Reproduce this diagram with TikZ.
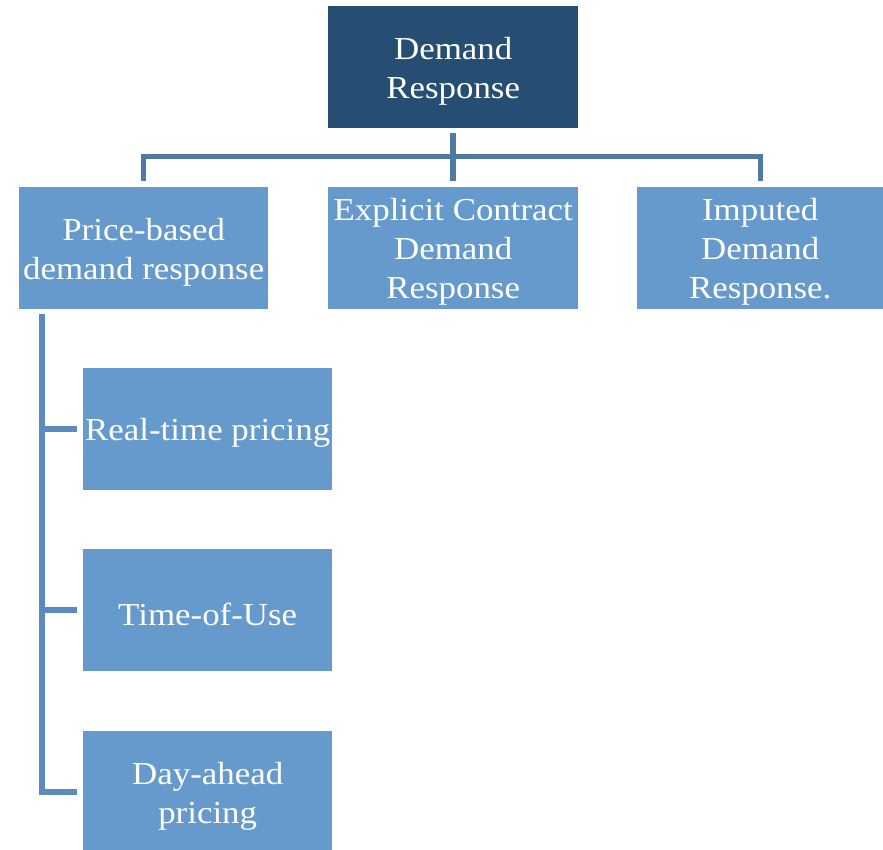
\documentclass[tikz,border=0pt]{standalone}
\usepackage{fontspec}
\setmainfont{Liberation Serif}[FakeStretch=1.09]
\definecolor{drdark}{HTML}{264E73}
\definecolor{drlight}{HTML}{6699CC}
\definecolor{linktop}{HTML}{4F7AA3}
\definecolor{linkleft}{HTML}{5B8BBE}
\tikzset{
  box/.style={anchor=north west, minimum width=#1, minimum height=122pt,
    inner sep=0pt, fill=drlight},
  box/.default=249pt,
  rootbox/.style={box=250pt, fill=drdark},
  boxtext/.style={inner sep=0pt, align=center, text=white,
    font=\fontsize{32}{39}\selectfont},
  toplink/.style={draw=linktop, line width=5pt, line join=miter},
  sidelink/.style={draw=linkleft, line width=5.5pt, line join=miter}
}
\begin{document}
\begin{tikzpicture}[x=1pt, y=-1pt]
\useasboundingbox (0,0) rectangle (883,850);
\begin{scope}
\clip (0,0) rectangle (883,850);
% level 0
\node[rootbox] (dr) at (328,6) {};
% level 1
\node[box] (pb) at (19,187) {};
\node[box=250pt] (ec) at (328,187) {};
\node[box=246pt] (ir) at (637,187) {};
% level 2
\node[box] (rtp) at (83,368) {};
\node[box] (tou) at (83,549) {};
\node[box] (dap) at (83,731) {};
% labels, set a little below each box centre
\node[boxtext] (drt) at ([yshift=-4pt]dr.center) {Demand\\Response};
\node[boxtext] (pbt) at ([yshift=-4pt]pb.center) {Price-based\\demand response};
\node[boxtext] (ect) at ([yshift=-4pt]ec.center) {Explicit Contract\\Demand\\Response};
\node[boxtext] (irt) at ([yshift=-4pt]ir.center) {Imputed\\Demand\\Response.};
\node[boxtext] (rtpt) at ([yshift=-4pt]rtp.center) {Real-time pricing};
\node[boxtext] (tout) at ([yshift=-4pt]tou.center) {Time-of-Use};
\node[boxtext] (dapt) at ([yshift=-4pt]dap.center) {Day-ahead\\pricing};
\end{scope}
% root to level 1
\draw[toplink, line width=6pt] ([yshift=-5pt]dr.south) -- ([yshift=6pt]ec.north);
\draw[toplink] ([yshift=6pt]pb.north) -- ++(0,-24) -| ([yshift=6pt]ir.north);
% price-based branch
\coordinate (spine) at ([xshift=23pt,yshift=-5pt]pb.south west);
\draw[sidelink] (spine) |- ([xshift=-6pt]dap.west);
\draw[sidelink] (spine |- rtp.west) -- ([xshift=-6pt]rtp.west);
\draw[sidelink] (spine |- tou.west) -- ([xshift=-6pt]tou.west);
\end{tikzpicture}
\end{document}
